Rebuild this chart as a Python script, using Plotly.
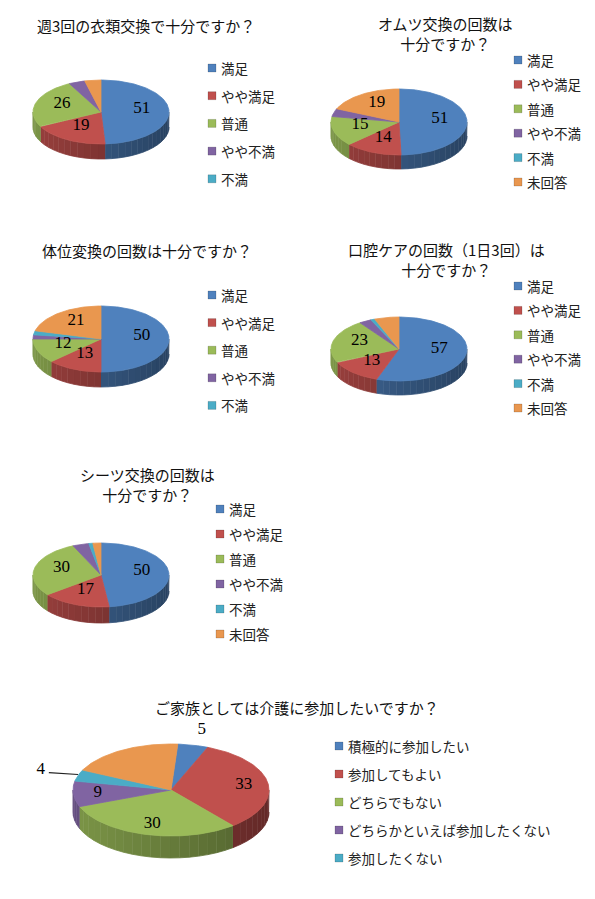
import numpy as np
import plotly.graph_objects as go

# 回答カテゴリ
cats = ["満足", "やや満足", "普通", "やや不満", "不満", "未回答"]
cats_family = ["積極的に参加したい", "参加してもよい", "どちらでもない",
               "どちらかといえば参加したくない", "参加したくない", "未回答"]

# 各設問の回答数
vals_clothes = [51, 19, 26, 4, 0, 4]
vals_diaper = [51, 14, 15, 4, 0, 19]
vals_position = [50, 13, 12, 2, 2, 21]
vals_oral = [57, 13, 23, 3, 1, 6]
vals_sheet = [50, 17, 30, 4, 1, 2]
vals_family = [5, 33, 30, 9, 4, 19]

titles = [
    "週3回の衣類交換で十分ですか？",
    "オムツ交換の回数は<br>十分ですか？",
    "体位変換の回数は十分ですか？",
    "口腔ケアの回数（1日3回）は<br>十分ですか？",
    "シーツ交換の回数は<br>十分ですか？",
    "ご家族としては介護に参加したいですか？",
]

colors = ["#4F81BD", "#C0504D", "#9BBB59", "#8064A2", "#4BACC6", "#E9974F"]

JP = "Noto Sans CJK JP"
NUM = "Liberation Serif"

# layout of each 3d pie (pixels on the page)
charts = [
    dict(vals=vals_clothes, cats=cats, n_leg=5, title=titles[0], tx=146, ty=25,
         cx=101, cy=112, rx=68, ry=32, d=15, rot=0, lx=212, ly=68, step=27.7),
    dict(vals=vals_diaper, cats=cats, n_leg=6, title=titles[1], tx=445, ty=33,
         cx=399, cy=122, rx=68, ry=33, d=14, rot=0, lx=518, ly=60, step=24.4),
    dict(vals=vals_position, cats=cats, n_leg=5, title=titles[2], tx=147, ty=250,
         cx=101, cy=339, rx=68, ry=33, d=15, rot=0, lx=212, ly=295, step=27.6),
    dict(vals=vals_oral, cats=cats, n_leg=6, title=titles[3], tx=446, ty=259,
         cx=399, cy=349, rx=68, ry=32, d=14, rot=0, lx=518, ly=286, step=24.4),
    dict(vals=vals_sheet, cats=cats, n_leg=6, title=titles[4], tx=147, ty=484,
         cx=101, cy=575, rx=68, ry=32, d=16, rot=0, lx=220, ly=509, step=25),
    dict(vals=vals_family, cats=cats_family, n_leg=5, title=titles[5], tx=297, ty=707,
         cx=171, cy=790, rx=98, ry=46, d=22, rot=4, lx=339, ly=746, step=28),
]
# where the numbers go on the last chart
family_lab = ["out", "in", "in", "in", "out", "none"]

# the page body has an 8px margin, shift the axes so page pixels line up
PAD = 8


def shade(hexc, f):
    r, g, b = int(hexc[1:3], 16), int(hexc[3:5], 16), int(hexc[5:7], 16)
    return "rgb(%d,%d,%d)" % (min(255, r * f), min(255, g * f), min(255, b * f))


def pt(c, t, f=1.0):
    return c["cx"] + f * c["rx"] * np.sin(t), c["cy"] - f * c["ry"] * np.cos(t)


fig = go.Figure()

def poly(xs, ys, col):
    fig.add_trace(go.Scatter(x=xs, y=ys, mode="lines", fill="toself", fillcolor=col,
                             line=dict(color=col, width=0.8), hoverinfo="skip"))

for c in charts:
    v = np.array(c["vals"], float)
    edges = np.deg2rad(c["rot"]) + 2 * np.pi * np.concatenate([[0], np.cumsum(v)]) / v.sum()
    c["edges"] = edges
    # side walls (front half only), split in strips for a bit of shading
    for i in range(len(v)):
        if v[i] == 0:
            continue
        a, b = max(edges[i], np.pi / 2), min(edges[i + 1], 1.5 * np.pi)
        if b <= a:
            continue
        n = max(1, int(np.ceil((b - a) / np.deg2rad(6))))
        cuts = np.linspace(a, b, n + 1)
        for k in range(n):
            t = np.linspace(cuts[k], cuts[k + 1], 6)
            x, y = pt(c, t)
            f = 0.66 - 0.14 * np.sin((cuts[k] + cuts[k + 1]) / 2)
            poly(np.concatenate([x, x[::-1]]), np.concatenate([y, y[::-1] + c["d"]]),
                 shade(colors[i], f))
    # top faces
    for i in range(len(v)):
        if v[i] == 0:
            continue
        t = np.linspace(edges[i], edges[i + 1], max(4, int(v[i] * 3)))
        x, y = pt(c, t)
        poly(np.concatenate([[c["cx"]], x, [c["cx"]]]),
             np.concatenate([[c["cy"]], y, [c["cy"]]]), colors[i])

# data labels
for j, c in enumerate(charts):
    v = c["vals"]
    edges = c["edges"]
    lx, ly, lt = [], [], []
    for i, val in enumerate(v):
        mid = (edges[i] + edges[i + 1]) / 2
        if j < 5:
            if val < 10:
                continue
            x, y = pt(c, mid, 0.6)
            y -= 3
        else:
            if family_lab[i] == "none":
                continue
            if family_lab[i] == "out":
                x, y = pt(c, mid, 1.4)
                if np.sin(mid) < -0.5:
                    ex, ey = pt(c, mid, 1.0)
                    fig.add_trace(go.Scatter(x=[x + 8, ex], y=[y + 3, ey - 1], mode="lines",
                                             line=dict(color="#222", width=1.2),
                                             hoverinfo="skip"))
                else:
                    y += 2
            else:
                x, y = pt(c, mid, 0.75)
        lx.append(x)
        ly.append(y)
        lt.append(str(val))
    fig.add_trace(go.Scatter(x=lx, y=ly, text=lt, mode="text", textposition="middle center",
                             textfont=dict(family=NUM, size=17, color="#000"),
                             hoverinfo="skip"))

# legends: coloured squares + names
for c in charts:
    ys = [c["ly"] + k * c["step"] for k in range(c["n_leg"])]
    fig.add_trace(go.Scatter(x=[c["lx"]] * c["n_leg"], y=ys, mode="markers",
                             marker=dict(symbol="square", size=8, color=colors[:c["n_leg"]],
                                         line=dict(color="rgba(0,0,0,0.25)", width=0.6)),
                             hoverinfo="skip"))
    for k in range(c["n_leg"]):
        fig.add_annotation(x=c["lx"] + 7, y=ys[k], xref="x", yref="y", text=c["cats"][k],
                           showarrow=False, xanchor="left", yanchor="middle",
                           font=dict(family=JP, size=13.5, color="#222"))
    fig.add_annotation(x=c["tx"], y=c["ty"], xref="x", yref="y", text=c["title"],
                       showarrow=False, xanchor="center", yanchor="middle",
                       font=dict(family=JP, size=15, color="#111"))

fig.update_layout(
    width=595, height=899, margin=dict(l=0, r=0, t=0, b=0),
    paper_bgcolor="white", plot_bgcolor="white", showlegend=False,
    xaxis=dict(range=[PAD, 595 + PAD], visible=False, fixedrange=True),
    yaxis=dict(range=[899 + PAD, PAD], visible=False, fixedrange=True),
)

fig.write_html("out.html")
